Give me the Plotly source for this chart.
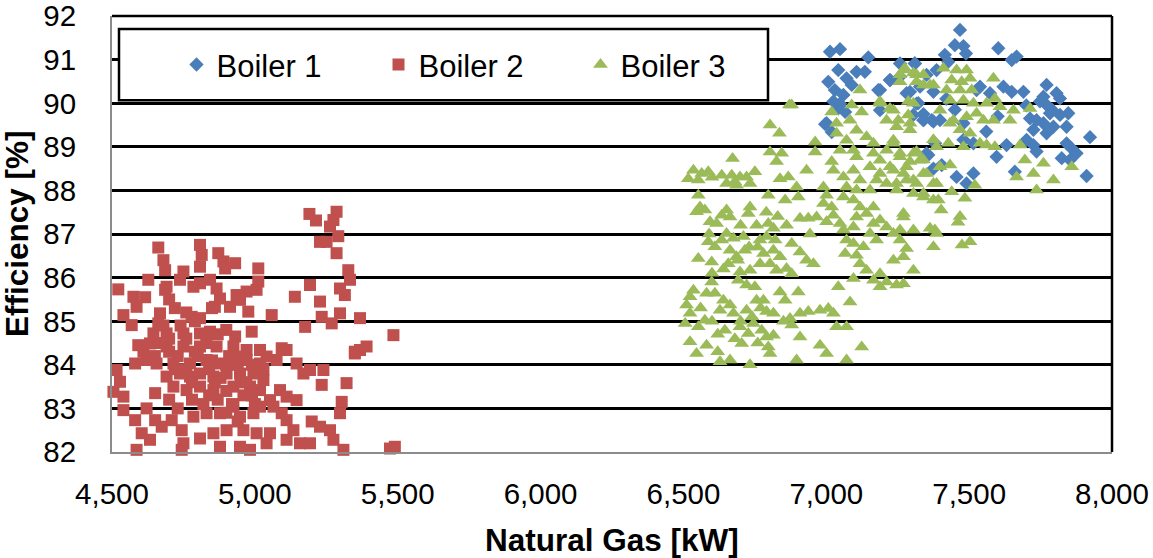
import plotly.graph_objects as go

# ---------------- data ----------------
series_names = ["Boiler 1", "Boiler 2", "Boiler 3"]

x_tick_values = [4500, 5000, 5500, 6000, 6500, 7000, 7500, 8000]
x_tick_labels = ["4,500", "5,000", "5,500", "6,000", "6,500", "7,000", "7,500", "8,000"]
y_tick_values = [82, 83, 84, 85, 86, 87, 88, 89, 90, 91, 92]
x_title = "Natural Gas [kW]"
y_title = "Efficiency [%]"

# (natural gas kW, efficiency %)
boiler1_points = [
    (7468, 91.68), (7450, 91.33), (7480, 91.31), (7489, 91.14), (7415, 91.11), (7427, 90.95),
    (7602, 91.26), (7649, 90.99), (7666, 91.07), (7310, 90.91), (7223, 90.53), (7188, 90.30),
    (7328, 90.38), (7293, 90.26), (7375, 90.26), (7538, 90.38), (7620, 90.38), (7649, 90.26),
    (7690, 90.26), (7771, 90.42), (7806, 90.23), (7818, 90.11), (7748, 90.04), (7771, 89.96),
    (7783, 89.77), (7818, 89.73), (7847, 89.77), (7713, 89.65), (7736, 89.61), (7760, 89.54),
    (7795, 89.46), (7841, 89.46), (7725, 89.39), (7771, 89.31), (7923, 89.22), (7701, 89.16),
    (7725, 89.04), (7736, 88.89), (7841, 89.08), (7859, 88.96), (7876, 88.85), (7824, 88.74),
    (7853, 88.70), (7911, 88.33), (7596, 88.77), (7660, 88.43), (7404, 88.58), (7456, 88.31),
    (7515, 88.39), (7491, 88.16), (7340, 89.61), (7375, 89.58), (7398, 89.61), (7480, 89.54),
    (7480, 89.16), (7515, 89.08), (7631, 89.04), (7573, 90.23), (7351, 90.65), (7258, 90.61),
    (7526, 90.30), (7357, 88.81),
    (7048, 89.99), (7066, 89.80), (6996, 89.52), (7019, 89.34), (7188, 89.84), (7316, 89.99),
    (7340, 89.75), (7369, 89.61), (7381, 89.08), (7351, 88.85), (7375, 88.50),
    (7013, 91.18), (7048, 91.24), (7147, 91.05), (7042, 90.76), (7106, 90.72), (7135, 90.72),
    (7071, 90.57), (7007, 90.49), (7089, 90.42), (7030, 90.30), (7060, 90.19), (7182, 90.30),
    (7223, 90.53), (7025, 90.04), (7042, 89.88), (7001, 89.54), (7258, 90.91), (7310, 90.91),
    (7281, 90.23), (7322, 90.00), (7305, 89.73), (7340, 89.61), (7386, 90.76),
    (7760, 90.15), (7790, 89.85), (7700, 89.95), (7600, 89.70), (7560, 89.35), (7450, 89.85),
    (7420, 90.10),
]

boiler2_points = [
    (5191, 87.46), (5214, 87.31), (5286, 87.51), (5275, 87.32), (5263, 87.17), (5228, 86.82),
    (5251, 86.82), (5292, 86.95), (5286, 86.56), (4662, 86.69), (4680, 86.40), (4686, 86.17),
    (4808, 86.75), (4814, 86.52), (4808, 86.25), (4872, 86.56), (4890, 86.37), (4931, 86.33),
    (4896, 86.21), (5012, 86.21), (4750, 86.14), (4738, 85.95), (4627, 85.95), (4691, 85.79),
    (4686, 85.72), (4522, 85.73), (4575, 85.56), (4616, 85.55), (4586, 85.33), (4808, 85.87),
    (4843, 85.95), (4866, 85.75), (4785, 85.79), (4878, 85.52), (4936, 85.60), (4971, 85.68),
    (5012, 85.91), (5006, 85.72), (4948, 85.49), (4913, 85.33), (4860, 85.33), (4977, 85.22),
    (5059, 85.14), (5193, 85.83), (5140, 85.56), (5228, 85.45), (5315, 85.60), (5333, 85.95),
    (5327, 86.17), (5298, 85.75), (5298, 85.18), (5234, 85.10), (5269, 84.95), (5368, 85.07),
    (5176, 84.87), (4540, 85.14), (4569, 84.91), (4668, 85.18), (4662, 84.95), (4779, 85.10),
    (4808, 85.07), (4645, 84.72), (4691, 84.72), (4750, 84.72), (4808, 84.72), (4843, 84.76),
    (4931, 84.65), (4989, 84.76), (4592, 84.45), (4633, 84.49), (4691, 84.42), (4750, 84.42),
    (4808, 84.42), (4866, 84.42), (4925, 84.42), (4971, 84.34), (5018, 84.34), (5094, 84.38),
    (5041, 84.19), (5076, 84.11), (5111, 84.34), (4581, 84.03), (4621, 84.11), (4656, 84.03),
    (4715, 84.03), (4773, 84.03), (4831, 84.11), (4878, 84.03), (4936, 84.19), (4971, 84.11),
    (5018, 84.03), (5146, 84.03), (5170, 83.80), (5193, 83.88), (5240, 83.88), (5234, 83.54),
    (5368, 84.34), (5391, 84.42), (5350, 84.30), (4516, 83.88), (4528, 83.61), (4505, 83.38),
    (4540, 83.27), (4651, 83.35), (4691, 83.73), (4738, 83.80), (4773, 83.73), (4808, 83.80),
    (4855, 83.73), (4901, 83.80), (4948, 83.80), (4995, 83.80), (5030, 83.65), (4715, 83.50),
    (4761, 83.42), (4808, 83.50), (4855, 83.42), (4925, 83.50), (4983, 83.50), (5018, 83.42),
    (5088, 83.42), (5111, 83.27), (5146, 83.19), (5053, 83.19), (5321, 83.58), (5304, 83.15),
    (5298, 82.89), (4540, 82.96), (4581, 82.73), (4621, 83.00), (4651, 82.73), (4674, 82.58),
    (4709, 82.73), (4604, 82.43), (4633, 82.28), (4744, 82.50), (4785, 82.81), (4831, 82.89),
    (4878, 82.89), (4925, 83.04), (4948, 82.81), (4995, 82.89), (5018, 83.04), (5065, 83.04),
    (5094, 82.89), (5111, 82.73), (5135, 82.50), (5158, 82.20), (5111, 82.28), (5053, 82.43),
    (5006, 82.43), (4960, 82.50), (4901, 82.50), (4855, 82.43), (4808, 82.31), (4750, 82.20),
    (4744, 82.05), (4586, 82.05), (4878, 82.12), (4948, 82.12), (4983, 82.05), (5041, 82.20),
    (5199, 82.70), (5228, 82.58), (5263, 82.50), (5275, 82.28), (5310, 82.05), (5193, 82.20),
    (5473, 82.08), (5490, 82.12), (5485, 84.68), (5350, 84.26),
    (4760, 84.60), (4790, 84.30), (4850, 84.10), (4900, 84.00), (4950, 83.60), (4870, 83.20),
    (4920, 83.10), (4960, 83.30), (4820, 83.10), (4780, 83.60), (4730, 84.20), (4700, 84.60),
    (4680, 84.90), (4740, 84.90), (4790, 85.00), (4850, 85.30),
    (4700, 84.30), (4720, 83.90), (4760, 83.90), (4800, 84.20), (4840, 83.90), (4880, 83.70),
    (4910, 84.20), (4940, 84.00), (4970, 83.60), (4990, 83.30), (5000, 83.10), (4900, 83.40),
    (4860, 83.60), (4830, 84.50), (4870, 84.70), (4900, 84.80), (4760, 85.20), (4720, 85.30),
    (4700, 85.50), (4660, 84.50), (4650, 84.20), (4610, 84.30), (4990, 84.00), (5030, 83.90),
    (4940, 82.70), (4900, 82.90), (4840, 83.30), (4780, 83.20), (4730, 83.00), (4700, 83.20),
]

boiler3_points = [
    (6871, 89.96), (6803, 89.50), (6836, 89.31), (6961, 89.11), (6961, 88.88), (6803, 88.88),
    (6844, 88.85), (6826, 88.66), (7019, 88.66), (6931, 88.46), (6672, 88.73), (6535, 88.46),
    (6564, 88.39), (6587, 88.43), (6517, 88.27), (6552, 88.24), (6634, 88.35), (6669, 88.35),
    (6698, 88.31), (6721, 88.31), (6750, 88.43), (6651, 88.16), (6686, 88.12), (6733, 88.16),
    (6838, 88.27), (6867, 88.31), (6896, 88.08), (6797, 87.89), (6856, 87.78), (6902, 87.85),
    (6552, 87.89), (6558, 87.62), (6546, 87.51), (6575, 87.55), (6593, 87.28), (6616, 87.24),
    (6651, 87.55), (6663, 87.39), (6634, 87.43), (6733, 87.62), (6727, 87.47), (6908, 87.36),
    (6937, 87.36), (6966, 87.39), (6861, 87.20), (6756, 87.20), (6797, 87.24), (6815, 87.13),
    (6587, 86.82), (6610, 86.71), (6552, 86.44), (6599, 86.36), (6651, 87.01), (6634, 86.86),
    (6675, 86.90), (6710, 86.94), (6663, 86.63), (6657, 86.32), (6686, 86.48), (6715, 86.63),
    (6768, 86.86), (6791, 86.94), (6821, 86.86), (6815, 86.63), (6780, 86.55), (6838, 86.48),
    (6768, 86.32), (6803, 86.32), (6826, 86.17), (6861, 86.21), (6879, 86.78), (6908, 86.59),
    (6931, 86.40), (6955, 86.32), (6943, 87.00), (6698, 86.13), (6733, 86.17), (6692, 85.94),
    (6721, 85.83), (6879, 86.09), (6599, 85.90), (6610, 85.64), (6581, 85.64), (6523, 85.56),
    (6535, 85.71), (6511, 85.37), (6640, 85.48), (6663, 85.37), (6628, 85.25), (6675, 85.18),
    (6721, 85.25), (6756, 85.48), (6750, 85.79), (6780, 85.48), (6791, 85.22), (6815, 85.18),
    (6838, 85.67), (6856, 85.48), (6902, 85.67), (6523, 85.18), (6506, 84.95), (6552, 84.87),
    (6575, 85.02), (6645, 84.79), (6698, 84.87), (6727, 84.72), (6704, 84.49), (6745, 84.95),
    (6774, 84.79), (6791, 84.64), (6815, 84.68), (6797, 84.41), (6803, 84.26), (6523, 84.53),
    (6546, 84.26), (6581, 84.45), (6628, 84.07), (6663, 84.11), (6733, 84.00), (6879, 84.91),
    (6908, 85.18), (6937, 85.22), (6978, 85.25), (7007, 85.29), (7025, 85.18), (6873, 85.06),
    (6896, 84.11), (6908, 84.64), (7036, 84.87), (7071, 84.87), (7083, 85.44), (7042, 85.79),
    (7095, 85.98), (6978, 84.45), (7001, 84.26), (7071, 84.11), (7124, 84.41),
    (6990, 88.08), (7001, 87.89), (6990, 87.70), (7019, 87.62), (7025, 87.43), (7001, 87.28),
    (7048, 87.24), (7060, 87.09), (7071, 86.86), (7066, 86.55), (7106, 86.51), (7118, 86.32),
    (7141, 86.17), (7165, 85.94), (7188, 85.79), (7211, 85.90), (7246, 85.83), (7270, 85.86),
    (7188, 86.09), (7235, 86.40), (7270, 86.48), (7281, 86.67), (7258, 86.86), (7235, 87.01),
    (7176, 86.86), (7153, 87.01), (7165, 87.24), (7141, 87.47), (7106, 87.39), (7095, 87.16),
    (7118, 87.62), (7165, 87.62), (7188, 87.32), (7211, 87.16), (7258, 87.09), (7270, 87.39),
    (7305, 87.09), (7363, 87.13), (7386, 87.01), (7375, 86.71), (7305, 86.17), (7095, 86.78),
    (7130, 86.71),
    (7036, 89.31), (7071, 89.15), (7106, 89.38), (7141, 89.23), (7165, 89.08), (7095, 88.92),
    (7048, 88.92), (7025, 88.46), (7060, 88.31), (7095, 88.46), (7118, 88.24), (7153, 88.54),
    (7188, 88.69), (7211, 88.92), (7235, 89.15), (7258, 88.85), (7281, 88.54), (7305, 88.85),
    (7328, 88.69), (7351, 88.39), (7316, 88.16), (7281, 88.24), (7246, 88.01), (7211, 88.16),
    (7176, 88.24), (7153, 88.01), (7106, 88.01), (7071, 88.08), (7060, 87.85), (7095, 87.78),
    (7340, 87.85), (7375, 87.78), (7305, 87.93), (7235, 88.46), (7188, 88.39), (7106, 88.77),
    (7165, 88.85), (7375, 88.16), (7398, 88.54),
    (6879, 89.96), (7019, 89.80), (7089, 89.96), (7118, 90.30), (7124, 89.80), (7188, 90.04),
    (7223, 89.88), (7252, 89.61), (7287, 90.04), (7275, 90.80), (7258, 90.65), (7316, 90.65),
    (7340, 90.42), (7375, 90.42), (7036, 89.54), (7083, 89.61), (7293, 89.54),
    (7270, 90.76), (7305, 90.69), (7340, 90.65), (7258, 90.49), (7316, 90.49), (7363, 90.42),
    (7410, 90.80), (7456, 90.76), (7491, 90.76), (7439, 90.53), (7474, 90.49), (7503, 90.57),
    (7421, 90.30), (7468, 90.30), (7509, 90.30), (7433, 90.07), (7480, 90.07), (7515, 90.00),
    (7561, 90.00), (7526, 89.77), (7491, 89.69), (7445, 89.61), (7550, 89.61), (7585, 89.61),
    (7585, 90.57), (7590, 90.11), (7608, 89.92), (7643, 89.61), (7655, 89.84), (7713, 89.88),
    (7398, 89.84), (7433, 89.54), (7468, 89.39), (7503, 89.31), (7538, 89.08), (7561, 89.04),
    (7590, 89.00), (7386, 89.00), (7427, 89.08), (7480, 89.00), (7678, 89.04), (7695, 88.70),
    (7666, 88.31), (7725, 88.39), (7760, 88.62), (7736, 88.01), (7795, 88.24), (7859, 88.54),
    (7433, 88.58), (7340, 88.39), (7386, 88.16), (7439, 87.97), (7485, 87.82), (7520, 88.12),
    (7305, 90.00), (7287, 89.73), (7235, 89.84), (7211, 89.61), (7246, 89.46), (7293, 89.39),
    (7235, 89.08), (7188, 90.00), (7375, 89.16), (7316, 88.89), (7340, 88.70), (7293, 88.66),
    (7258, 88.77), (7223, 88.54), (7270, 88.39), (7305, 88.24), (7246, 88.16), (7340, 87.93),
    (7392, 87.78), (7270, 87.47), (7468, 87.40),
    (7380, 87.09), (7461, 87.27), (7475, 86.75), (7503, 86.82), (7402, 87.55),
    (6560, 85.30), (6600, 85.00), (6620, 84.70), (6680, 84.60), (6700, 85.00), (6740, 85.10),
    (6770, 85.30), (6600, 86.10), (6640, 86.20), (6690, 86.40), (6730, 86.70), (6760, 86.70),
    (6590, 87.00), (6700, 87.20), (6790, 87.50), (6830, 87.40), (6620, 84.30), (6760, 84.50),
    (6850, 85.00), (6680, 88.20), (6600, 88.30),
]

# ---------------- figure ----------------
styles = [
    dict(symbol="diamond", color="#4A7EBB", size=11),
    dict(symbol="square", color="#C0504D", size=12),
    dict(symbol="triangle-up", color="#9BBB59", size=13),
]

fig = go.Figure()
for name, pts, st in zip(series_names, [boiler1_points, boiler2_points, boiler3_points], styles):
    fig.add_trace(go.Scatter(
        x=[p[0] for p in pts], y=[p[1] for p in pts],
        mode="markers", name=name, cliponaxis=False,
        marker=dict(symbol=st["symbol"], color=st["color"], size=st["size"], line=dict(width=0)),
    ))

FONT = "Liberation Sans, Arial, sans-serif"

fig.update_layout(
    width=1153, height=558,
    margin=dict(l=112, r=41, t=16, b=106, autoexpand=False),
    paper_bgcolor="white", plot_bgcolor="white",
    font=dict(family=FONT, color="black"),
    showlegend=True,
    legend=dict(
        orientation="h", x=0.0645, y=0.888, xanchor="left", yanchor="middle",
        bgcolor="rgba(0,0,0,0)", borderwidth=0,
        font=dict(size=31, family=FONT, color="black"),
        entrywidth=157, entrywidthmode="pixels", itemsizing="trace",
    ),
    xaxis=dict(
        range=[4500, 8000], tickvals=x_tick_values, ticktext=x_tick_labels,
        showgrid=False, zeroline=False, showline=True, linecolor="#8C8C8C", linewidth=2,
        ticks="", ticklabelstandoff=15, tickfont=dict(size=29.5), automargin=False,
        ticklabeloverflow="allow",
    ),
    yaxis=dict(
        range=[82, 92], tickvals=y_tick_values,
        showgrid=True, gridcolor="black", gridwidth=2.5, zeroline=False,
        showline=True, linecolor="#8C8C8C", linewidth=2, automargin=False,
        ticks="", ticklabelstandoff=28, tickfont=dict(size=29.5),
        ticklabeloverflow="allow",
    ),
    annotations=[
        dict(text="<b>" + x_title + "</b>", xref="paper", yref="paper", x=0.5, y=-0.202,
             xanchor="center", yanchor="middle", showarrow=False, font=dict(size=31.5)),
        dict(text="<b>" + y_title + "</b>", xref="paper", yref="paper", x=-0.095, y=0.5,
             xanchor="center", yanchor="middle", textangle=-90, showarrow=False,
             font=dict(size=31.5)),
    ],
    shapes=[
        dict(type="line", xref="paper", yref="paper", x0=0, x1=1, y0=1, y1=1,
             line=dict(color="black", width=2.5), layer="below"),
        dict(type="line", xref="paper", yref="paper", x0=1, x1=1, y0=0, y1=1,
             line=dict(color="black", width=2.5), layer="above"),
        dict(type="rect", xref="paper", yref="paper", x0=0.007, x1=0.656, y0=0.807, y1=0.970,
             line=dict(color="black", width=2.5), fillcolor="white", layer="above"),
    ],
)

# remove the browser's default 8px page margin so the figure sits at the window origin
fig.write_html("out.html", config={"displayModeBar": False},
               post_script="document.body.style.margin='0';")
